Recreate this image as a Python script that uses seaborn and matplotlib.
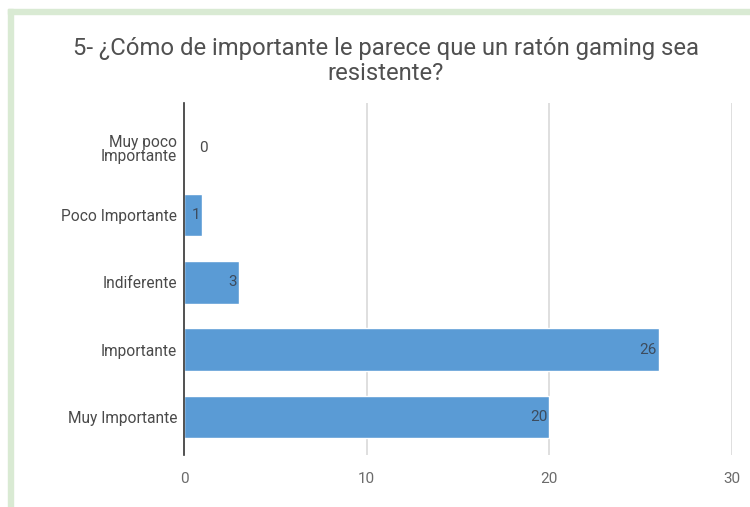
import matplotlib
matplotlib.use("Agg")
import matplotlib.pyplot as plt
import seaborn as sns
import pandas as pd
from matplotlib.patches import Rectangle

categories = ["Muy poco\nImportante", "Poco Importante", "Indiferente", "Importante", "Muy Importante"]
values = [0, 1, 3, 26, 20]
x_ticks = [0, 10, 20, 30]

sns.set_theme(style="white")
plt.rcParams["font.family"] = ["Roboto", "DejaVu Sans"]

df = pd.DataFrame({"categoria": categories, "respuestas": values})

W, H = 750, 507
fig = plt.figure(figsize=(W / 100, H / 100), dpi=100)
fig.patch.set_facecolor("white")

# light green frame along the top and left edges
border = "#d9ead3"
fig.patches.append(Rectangle((8 / W, 0), 5 / W, 1 - 9 / H, transform=fig.transFigure,
                             color=border, zorder=0))
fig.patches.append(Rectangle((8 / W, 1 - 14 / H), 1 - 8 / W, 5 / H, transform=fig.transFigure,
                             color=border, zorder=0))

ax = fig.add_axes([184 / W, 1 - 455 / H, (732 - 184) / W, (455 - 103) / H])
sns.barplot(data=df, x="respuestas", y="categoria", orient="h", color="#5a9bd5",
            saturation=1, width=0.63, ax=ax, zorder=3)

ax.set_xlim(0, 30)
ax.set_ylim(4.57, -0.67)
ax.set_xticks(x_ticks)
ax.set_xticklabels([str(t) for t in x_ticks], color="#6b6b6b", fontsize=11)
ax.tick_params(axis="x", length=0, pad=12)
ax.tick_params(axis="y", length=0, pad=5)
for lbl in ax.get_yticklabels():
    lbl.set_color("#4a4a4a")
    lbl.set_fontsize(11.2)
    lbl.set_linespacing(0.95)
ax.set_xlabel("")
ax.set_ylabel("")

for x in x_ticks[1:]:
    ax.axvline(x, color="#d9d9d9", lw=1.2, zorder=1)

for s in ["top", "right", "bottom"]:
    ax.spines[s].set_visible(False)
ax.spines["left"].set_color("#333333")
ax.spines["left"].set_linewidth(1.2)
ax.spines["left"].set_zorder(5)

for i, v in enumerate(values):
    if v > 0:
        ax.annotate(str(v), (v, i), xytext=(-1.5, 0), textcoords="offset points",
                    ha="right", va="center", fontsize=11, color="#3d4c5e", zorder=6)
    else:
        ax.annotate(str(v), (v, i), xytext=(11, 0), textcoords="offset points",
                    ha="left", va="center", fontsize=11, color="#4a4a4a", zorder=6)

fig.text(386 / W, 1 - 61 / H,
         "5- ¿Cómo de importante le parece que un ratón gaming sea\nresistente?",
         ha="center", va="center", fontsize=17.2, color="#505050", linespacing=1.08)

fig.savefig("out.png", dpi=100)
